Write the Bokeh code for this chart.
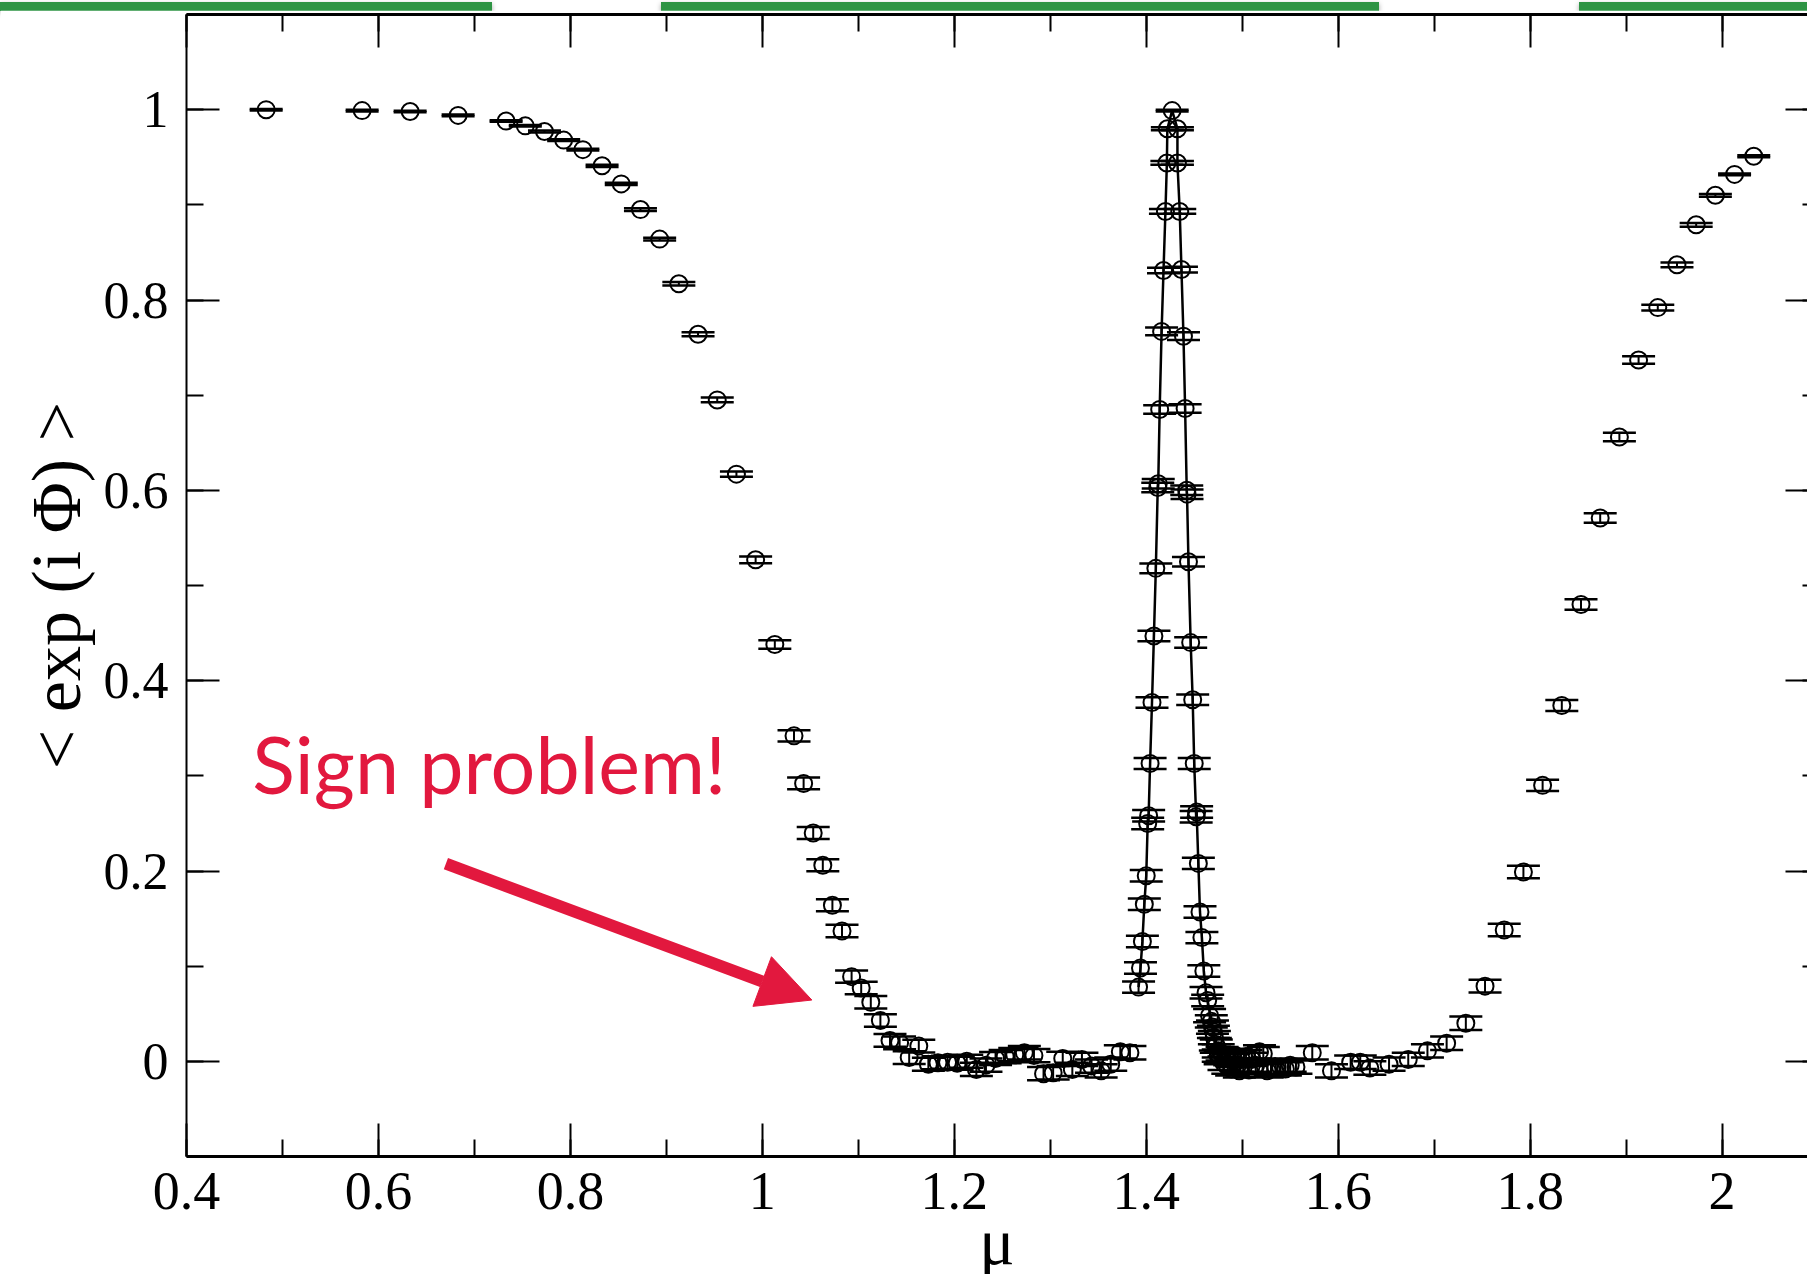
from bokeh.plotting import figure
from bokeh.models import (ColumnDataSource, Whisker, TeeHead, LinearAxis, SingleIntervalTicker,
                          CustomJSTickFormatter, Label, Arrow, NormalHead, Div, Range1d)
from bokeh.layouts import column
from bokeh.embed import file_html
from bokeh.resources import INLINE

# ---------------- data ----------------
# left branch (no line)
mu_a = [0.483, 0.583, 0.633, 0.683,
        0.733, 0.753, 0.773, 0.793, 0.813, 0.833, 0.853, 0.873, 0.893, 0.913, 0.933, 0.953, 0.973, 0.993, 1.013,
        1.033, 1.043, 1.053, 1.063, 1.073, 1.083, 1.093, 1.103, 1.113, 1.123, 1.133, 1.143, 1.153, 1.163, 1.173,
        1.183, 1.193, 1.203, 1.213, 1.223, 1.233, 1.243, 1.253, 1.263, 1.273, 1.283, 1.293, 1.303, 1.313, 1.323,
        1.333, 1.343, 1.353, 1.363, 1.373, 1.383]
phase_a = [1.000, 0.999, 0.998, 0.994,
           0.988, 0.983, 0.977, 0.968, 0.958, 0.941, 0.922, 0.895, 0.864, 0.817, 0.764, 0.695, 0.617, 0.527, 0.438,
           0.342, 0.292, 0.240, 0.206, 0.164, 0.137, 0.089, 0.077, 0.062, 0.043, 0.022, 0.0195, 0.004, 0.016, -0.003,
           -0.0015, -0.001, -0.002, 0.000, -0.0085, -0.004, 0.003, 0.005, 0.007, 0.009, 0.006, -0.013, -0.012, 0.003, -0.0085,
           0.002, -0.005, -0.010, -0.003, 0.010, 0.009]
err_a = [0.0008, 0.0008, 0.0008, 0.0008,
         0.0008, 0.0008, 0.0010, 0.0010, 0.0010, 0.0012, 0.0012, 0.0014, 0.0015, 0.0018, 0.0022, 0.0025, 0.0028, 0.0035, 0.0045,
         0.0058, 0.0062, 0.0063, 0.0063, 0.0064, 0.0065, 0.0065, 0.0065, 0.0066, 0.0066, 0.0066, 0.0067, 0.0067, 0.0067, 0.0068,
         0.0068, 0.0068, 0.0068, 0.0068, 0.0069, 0.0069, 0.0069, 0.0069, 0.0070, 0.0070, 0.0070, 0.0070, 0.0070, 0.0070, 0.0070,
         0.0070, 0.0070, 0.0070, 0.0070, 0.0070, 0.0070]

# sharp peak (connected by a line)
mu_p = [1.392, 1.394, 1.396, 1.398, 1.400, 1.4015, 1.4025, 1.404, 1.406, 1.408, 1.410, 1.412, 1.4125, 1.414, 1.416,
        1.418, 1.420, 1.4215, 1.422, 1.427, 1.4325, 1.4325, 1.4349, 1.4367, 1.4388, 1.4405, 1.4422, 1.4425, 1.444,
        1.4463, 1.4484, 1.450, 1.452, 1.4525, 1.4543, 1.456, 1.458, 1.460, 1.4623, 1.464, 1.4678, 1.470, 1.472, 1.475]
phase_p = [0.078, 0.098, 0.126, 0.165, 0.195, 0.250, 0.258, 0.313, 0.377, 0.447, 0.518, 0.603, 0.607, 0.685, 0.767,
           0.831, 0.893, 0.944, 0.980, 0.999, 0.980, 0.944, 0.893, 0.832, 0.762, 0.686, 0.600, 0.596, 0.525,
           0.440, 0.380, 0.313, 0.257, 0.262, 0.208, 0.157, 0.130, 0.095, 0.072, 0.064, 0.042, 0.031, 0.018, 0.006]
err_p = [0.006, 0.006, 0.006, 0.006, 0.006, 0.006, 0.006, 0.0058, 0.0055, 0.0055, 0.005, 0.005, 0.005, 0.0045, 0.004,
         0.003, 0.0025, 0.002, 0.0015, 0.001, 0.0015, 0.002, 0.0025, 0.003, 0.004, 0.0045, 0.005, 0.005, 0.005,
         0.0055, 0.0055, 0.0058, 0.006, 0.006, 0.006, 0.006, 0.006, 0.006, 0.006, 0.006, 0.0065, 0.0065, 0.0065, 0.0065]

# dense cluster right of the peak (no line)
mu_c = [1.466, 1.469, 1.471, 1.473, 1.475, 1.477, 1.479, 1.481, 1.483, 1.485, 1.487, 1.489, 1.491, 1.493, 1.495,
        1.497, 1.499, 1.501, 1.504, 1.507, 1.510, 1.514, 1.518, 1.522, 1.526, 1.530, 1.535, 1.540, 1.545, 1.550, 1.556]
phase_c = [0.048, 0.036, 0.025, 0.016, 0.011, 0.004, 0.008, -0.002, 0.006, -0.006, 0.003, -0.008, 0.001, 0.006, -0.004,
           -0.010, 0.002, -0.006, 0.005, -0.009, 0.002, -0.004, 0.010, 0.008, -0.010, -0.008, -0.006, -0.006, -0.008, -0.004, -0.006]
err_c = [0.007] * 31

# right branch (no line)
mu_r = [1.573, 1.593, 1.613, 1.623, 1.633, 1.653, 1.673, 1.693, 1.713, 1.733, 1.753, 1.773, 1.793, 1.813, 1.833,
        1.853, 1.873, 1.893, 1.913, 1.933, 1.953, 1.973, 1.993, 2.013, 2.033]
phase_r = [0.009, -0.010, -0.001, -0.001, -0.007, -0.003, 0.002, 0.011, 0.019, 0.040, 0.079, 0.138, 0.199, 0.290, 0.374,
           0.480, 0.571, 0.656, 0.737, 0.792, 0.837, 0.879, 0.910, 0.932, 0.951]
err_r = [0.007, 0.007, 0.007, 0.007, 0.007, 0.007, 0.007, 0.007, 0.007, 0.007, 0.0068, 0.0065, 0.0065, 0.006, 0.0058,
         0.0055, 0.005, 0.0045, 0.004, 0.003, 0.0025, 0.002, 0.0015, 0.001, 0.001]

annotation_text = "Sign problem!"
x_label = "μ"
y_label = "< exp (i Φ) >"

RED = "#e2183e"
SERIF = "Liberation Serif"

# ---------------- figure ----------------
# the reference crops the x-axis title at the bottom edge: the figure is a bit taller
# than the window and the page hides the overflow
p = figure(width=1807, height=1287, x_range=Range1d(0.4, 2.089), y_range=Range1d(-0.1, 1.1),
           output_backend="svg", toolbar_location=None, tools="",
           x_axis_location=None, y_axis_location=None,
           min_border_left=186, min_border_right=0, min_border_top=4, min_border_bottom=141)
p.outline_line_color = None
for g in p.grid:
    g.visible = False
p.background_fill_color = "white"
p.border_fill_color = "white"

num_fmt = "return String(+tick.toFixed(2));"
blank_fmt = "return '';"


def make_axis(tick_in, minor_in, line_width, label_size, standoff, code):
    ax = LinearAxis(ticker=SingleIntervalTicker(interval=0.2, num_minor_ticks=2),
                    formatter=CustomJSTickFormatter(code=code))
    ax.major_tick_in = tick_in
    ax.major_tick_out = 0
    ax.minor_tick_in = minor_in
    ax.minor_tick_out = 0
    ax.major_tick_line_width = 2
    ax.minor_tick_line_width = 2
    ax.major_tick_line_color = "black"
    ax.minor_tick_line_color = "black"
    ax.axis_line_width = line_width
    ax.axis_line_color = "black"
    ax.major_label_text_font = SERIF
    ax.major_label_text_font_size = label_size
    ax.major_label_text_color = "black"
    ax.major_label_standoff = standoff
    return ax


bottom = make_axis(33, 17, 3, "54px", 16, num_fmt)
bottom.axis_label = x_label
bottom.axis_label_text_font = SERIF
bottom.axis_label_text_font_size = "66px"
bottom.axis_label_text_font_style = "normal"
bottom.axis_label_text_color = "black"
bottom.axis_label_standoff = -7

left = make_axis(33, 17, 2, "52px", 18, num_fmt)
left.axis_label = y_label
left.axis_label_text_font = SERIF
left.axis_label_text_font_size = "70px"
left.axis_label_text_font_style = "normal"
left.axis_label_text_color = "black"
left.axis_label_standoff = 6

top = make_axis(33, 17, 3, "1px", 0, blank_fmt)
top.axis_label_standoff = 0
right = make_axis(22, 5, 2, "1px", 0, blank_fmt)
right.axis_label_standoff = 0
right.axis_line_color = None

p.add_layout(bottom, "below")
p.add_layout(left, "left")
p.add_layout(top, "above")
p.add_layout(right, "right")

# scatter series with error bars
mu_s = mu_a + mu_c + mu_r
ph_s = phase_a + phase_c + phase_r
er_s = err_a + err_c + err_r
src_s = ColumnDataSource(dict(x=mu_s, y=ph_s,
                              lo=[v - e for v, e in zip(ph_s, er_s)],
                              hi=[v + e for v, e in zip(ph_s, er_s)]))
src_p = ColumnDataSource(dict(x=mu_p, y=phase_p,
                              lo=[v - e for v, e in zip(phase_p, err_p)],
                              hi=[v + e for v, e in zip(phase_p, err_p)]))

p.line("x", "y", source=src_p, line_color="black", line_width=2.5)

for src in (src_s, src_p):
    w = Whisker(source=src, base="x", lower="lo", upper="hi", dimension="height",
                line_color="black", line_width=2,
                upper_head=TeeHead(size=33, line_width=2.5, line_color="black"),
                lower_head=TeeHead(size=33, line_width=2.5, line_color="black"))
    p.add_layout(w)
    p.scatter("x", "y", source=src, marker="circle", size=17, fill_color=None,
              line_color="black", line_width=2)

# annotation
p.add_layout(Label(x=0.4686, y=0.313, text=annotation_text, text_font="Lato", text_font_size="79px",
                   text_color=RED, text_align="left", text_baseline="alphabetic"))
p.add_layout(Arrow(x_start=0.6703, y_start=0.2077, x_end=1.0516, y_end=0.0644,
                   line_color=RED, line_width=12,
                   end=NormalHead(size=53, fill_color=RED, line_color=RED, line_width=1)))

bars = ('<div style="position:relative;width:1807px;height:10px;overflow:visible;margin:0;padding:0;">'
        '<div style="position:absolute;left:0px;top:0px;width:492px;height:9px;background:#2e9444;box-shadow:0 2px 5px rgba(0,0,0,0.35);"></div>'
        '<div style="position:absolute;left:661px;top:0px;width:718px;height:9px;background:#2e9444;box-shadow:0 2px 5px rgba(0,0,0,0.35);"></div>'
        '<div style="position:absolute;left:1579px;top:0px;width:228px;height:9px;background:#2e9444;box-shadow:0 2px 5px rgba(0,0,0,0.35);"></div>'
        '</div>')
div = Div(text=bars, width=1807, height=10, margin=(0, 0, 0, 0))

layout = column(div, p, spacing=0)
html = file_html(layout, INLINE)
html = html.replace("</head>", "<style>html, body { margin: 0; overflow: hidden; }</style></head>", 1)
open("out.html", "w").write(html)
